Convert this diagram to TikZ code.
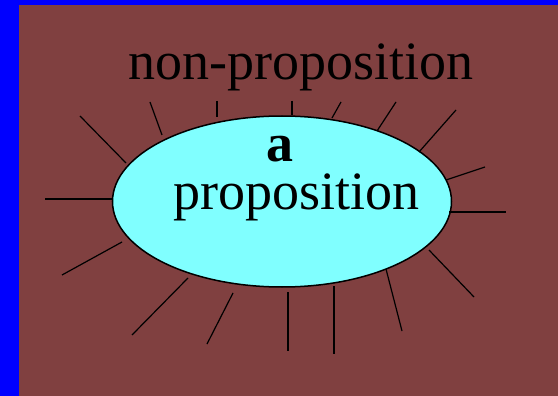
\documentclass[tikz,border=0pt]{standalone}
\usepackage{fontspec}
\setmainfont{Liberation Serif}
\usetikzlibrary{shapes.geometric}
\definecolor{framblue}{HTML}{0000FF}
\definecolor{bgbrown}{HTML}{804040}
\definecolor{propcyan}{HTML}{80FFFF}

\begin{document}
\begin{tikzpicture}[x=1pt,y=-1pt,
blob/.style={ellipse,draw=black,line width=1.5pt,fill=propcyan,
minimum width=339pt,minimum height=171pt,inner sep=0pt},
tag/.style={inner sep=0pt,anchor=base,font=\fontsize{54}{48}\selectfont},
ray/.style={line width=1.2pt}
]
\useasboundingbox (0,0) rectangle (558,396);
\fill[framblue] (0,0) rectangle (558,396);
\fill[bgbrown] (19,5) rectangle (558,396);
\node[blob] (prop) at (282,201.5) {};
\node[tag] (outer) at (301,80) {non-proposition};
\node[tag,align=center] (inner) at (296.5,210)
{\hspace*{-33pt}\textbf{a}\\proposition};
% rays round the ellipse
\foreach \xa/\ya/\xb/\yb in {80/116/126/163,150/102/162/135,217/101/217/117,
292/101/292/115,341/102/332/118,396/102/377/131,456/110/419/152,
485/167/446/180,45/199/113/199,62/275/122/242,132/335/188/278,
207/344/233/293,288/292/288/351,334/286/334/354,402/331/386/269,
474/297/429/250,449/212/506/212}
\draw[ray] (\xa,\ya) -- (\xb,\yb);
\end{tikzpicture}
\end{document}
